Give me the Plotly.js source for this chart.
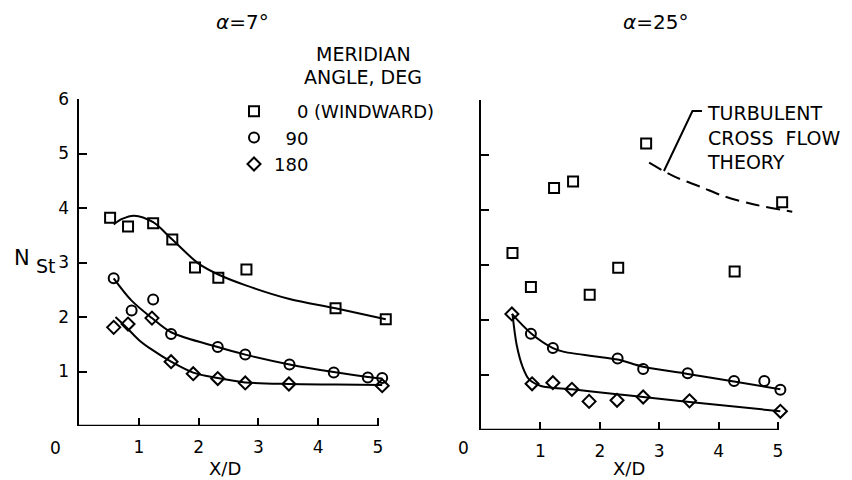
<!DOCTYPE html>
<html>
<head>
<meta charset="utf-8">
<script src="https://cdn.plot.ly/plotly-3.0.1.min.js"></script>
<style>html,body{margin:0;padding:0;background:#fff;}#chart{width:852px;height:480px;}</style>
</head>
<body>
<div id="chart"></div>
<script>
// ---------- data: alpha = 7 deg ----------
const a7_sq_x = [0.52, 0.82, 1.24, 1.56, 1.94, 2.33, 2.80, 4.29, 5.13];
const a7_sq_y = [3.82, 3.66, 3.72, 3.42, 2.91, 2.72, 2.87, 2.16, 1.96];
const a7_ci_x = [0.58, 0.88, 1.24, 1.54, 2.32, 2.78, 3.52, 4.26, 4.83, 5.07];
const a7_ci_y = [2.71, 2.12, 2.32, 1.69, 1.45, 1.31, 1.13, 0.98, 0.89, 0.88];
const a7_di_x = [0.58, 0.82, 1.22, 1.54, 1.91, 2.32, 2.78, 3.51, 5.07];
const a7_di_y = [1.81, 1.87, 1.98, 1.18, 0.96, 0.87, 0.79, 0.77, 0.74];
// faired curves
const a7_sqFit_x = [0.58, 0.72, 0.92, 1.24, 1.56, 2.00, 2.33, 2.79, 3.52, 4.29, 5.13];
const a7_sqFit_y = [3.70, 3.80, 3.86, 3.74, 3.42, 2.98, 2.78, 2.58, 2.33, 2.16, 1.96];
const a7_ciFit_x = [0.58, 0.88, 1.22, 1.54, 2.32, 2.78, 3.52, 4.26, 4.83, 5.07];
const a7_ciFit_y = [2.71, 2.30, 1.98, 1.72, 1.45, 1.31, 1.13, 0.99, 0.90, 0.87];
const a7_diFit_x = [0.61, 0.82, 1.00, 1.22, 1.54, 1.91, 2.32, 2.78, 3.51, 4.30, 5.07];
const a7_diFit_y = [2.00, 1.78, 1.58, 1.40, 1.18, 0.98, 0.88, 0.80, 0.77, 0.76, 0.75];

// ---------- data: alpha = 25 deg ----------
const a25_sq_x = [0.53, 0.84, 1.23, 1.55, 1.83, 2.31, 2.78, 4.27, 5.07];
const a25_sq_y = [3.22, 2.60, 4.40, 4.52, 2.46, 2.95, 5.21, 2.88, 4.14];
const a25_ci_x = [0.84, 1.21, 2.30, 2.73, 3.48, 4.26, 4.77, 5.04];
const a25_ci_y = [1.75, 1.49, 1.30, 1.11, 1.03, 0.89, 0.89, 0.73];
const a25_di_x = [0.52, 0.86, 1.21, 1.53, 1.82, 2.29, 2.73, 3.51, 5.04];
const a25_di_y = [2.11, 0.84, 0.86, 0.74, 0.52, 0.54, 0.60, 0.53, 0.34];
const a25_ciFit_x = [0.52, 0.84, 1.21, 1.40, 2.30, 2.73, 3.48, 4.26, 5.04];
const a25_ciFit_y = [2.11, 1.76, 1.49, 1.42, 1.28, 1.15, 1.02, 0.88, 0.74];
const a25_diFit_x = [0.53, 0.60, 0.70, 0.81, 1.01, 1.53, 2.29, 2.73, 3.51, 5.04];
const a25_diFit_y = [2.11, 1.55, 1.15, 0.92, 0.80, 0.74, 0.65, 0.60, 0.51, 0.34];
const theory_x = [2.83, 3.25, 3.70, 4.09, 4.60, 5.24];
const theory_y = [4.86, 4.61, 4.42, 4.25, 4.10, 3.97];

const seriesNames = ['\u2007\u20070 (WINDWARD)', '\u200790', '180'];
const xTicks = [1, 2, 3, 4, 5];
const yTicks = [1, 2, 3, 4, 5, 6];
const xEnd = 5;        // last labelled x value (axis line stops here)
const xMax = 5.35;     // plotted range, so points just past 5 stay visible

// ---------- layout helpers ----------
const W = 852, H = 480;
const px = v => v / W;
const py = v => 1 - v / H;
const FONT = 'DejaVu Sans, Liberation Sans, Arial, sans-serif';
const ink = '#000';

const mk = (sym, size) => ({symbol: sym, size: size, color: ink, line: {color: ink, width: 2}});
const sq = mk('square-open', 10), ci = mk('circle-open', 10), di = mk('diamond-open', 10);

const pts = (x, y, m, name, ax, show) => ({
  type: 'scatter', mode: 'markers', x: x, y: y, marker: m, name: name,
  xaxis: ax[0], yaxis: ax[1], showlegend: show, legendgroup: name, cliponaxis: false
});
const fit = (x, y, ax, dash) => ({
  type: 'scatter', mode: 'lines', x: x, y: y, xaxis: ax[0], yaxis: ax[1],
  line: {color: ink, width: 2, shape: 'spline', smoothing: 0.9, dash: dash || 'solid'},
  showlegend: false, hoverinfo: 'skip', cliponaxis: false
});

const L = ['x', 'y'], R = ['x2', 'y2'];
const data = [
  fit(a7_sqFit_x, a7_sqFit_y, L), fit(a7_ciFit_x, a7_ciFit_y, L), fit(a7_diFit_x, a7_diFit_y, L),
  fit(a25_ciFit_x, a25_ciFit_y, R), fit(a25_diFit_x, a25_diFit_y, R),
  fit(theory_x, theory_y, R, '14px,7px'),
  pts(a7_sq_x, a7_sq_y, sq, seriesNames[0], L, true),
  pts(a7_ci_x, a7_ci_y, ci, seriesNames[1], L, true),
  pts(a7_di_x, a7_di_y, di, seriesNames[2], L, true),
  pts(a25_sq_x, a25_sq_y, sq, seriesNames[0], R, false),
  pts(a25_ci_x, a25_ci_y, ci, seriesNames[1], R, false),
  pts(a25_di_x, a25_di_y, di, seriesNames[2], R, false)
];

const xax = (d, anchor) => ({
  domain: d, anchor: anchor, range: [0, xMax], showgrid: false, zeroline: false,
  showline: false, ticks: 'inside', ticklen: 8, tickwidth: 2,
  tickcolor: ink, tickvals: xTicks, ticktext: xTicks.map(String), ticklabelstandoff: 9,
  tickfont: {family: FONT, size: 17, color: ink}
});
const yax = (d, anchor, labels) => ({
  domain: d, anchor: anchor, range: [0, 6], showgrid: false, zeroline: false,
  showline: true, linecolor: ink, linewidth: 2.5, ticks: 'inside', ticklen: 8, tickwidth: 2,
  tickcolor: ink, tickvals: yTicks, ticktext: yTicks.map(String), showticklabels: labels,
  ticklabelstandoff: 4, tickfont: {family: FONT, size: 17, color: ink}
});

const ann = (text, x, y, size, extra) => Object.assign({
  text: text, xref: 'paper', yref: 'paper', x: px(x), y: py(y), showarrow: false,
  xanchor: 'center', yanchor: 'middle', font: {family: FONT, size: size, color: ink}
}, extra || {});

const unitL = 299 / 5, unitR = 297 / 5;
const baseLine = (xr, yr) => ({type: 'line', xref: xr, yref: yr, x0: 0, x1: xEnd, y0: 0, y1: 0,
  line: {color: ink, width: 2.5}});

const layout = {
  width: W, height: H, margin: {l: 0, r: 0, t: 0, b: 0},
  paper_bgcolor: '#fff', plot_bgcolor: 'rgba(0,0,0,0)',
  font: {family: FONT, color: ink},
  xaxis: xax([px(79), px(79 + xMax * unitL)], 'y'),
  yaxis: yax([1 - 426 / H, 1 - 99 / H], 'x', true),
  xaxis2: xax([px(481), px(481 + xMax * unitR)], 'y2'),
  yaxis2: yax([1 - 430 / H, 1 - 100 / H], 'x2', false),
  legend: {
    x: px(234), y: py(93), xanchor: 'left', yanchor: 'top', bgcolor: 'rgba(0,0,0,0)',
    font: {family: FONT, size: 18, color: ink},
    itemsizing: 'trace', tracegroupgap: 0
  },
  annotations: [
    ann('<i>α</i>=7°', 242, 22, 20),
    ann('<i>α</i>=25°', 655, 22, 20),
    ann('MERIDIAN', 363, 54, 19),
    ann('ANGLE, DEG', 363, 77, 19),
    ann('N', 22, 258, 21),
    ann('St', 46, 266, 19),
    ann('0', 55, 448, 17),
    ann('0', 463, 448, 17),
    ann('X/D', 225, 468, 18),
    ann('X/D', 629, 468, 18),
    ann('TURBULENT<br>CROSS\u00a0\u00a0FLOW<br>THEORY', 705, 112, 19,
        {xanchor: 'left', yanchor: 'top', align: 'left', yshift: 12})
  ],
  shapes: [
    baseLine('x', 'y'), baseLine('x2', 'y2'),
    {type: 'path', xref: 'x2', yref: 'y2', path: 'M 3.08 4.71 L 3.56 5.80 L 3.72 5.80',
     line: {color: ink, width: 2}}
  ]
};

Plotly.newPlot('chart', data, layout, {displayModeBar: false, staticPlot: true});
</script>
</body>
</html>
